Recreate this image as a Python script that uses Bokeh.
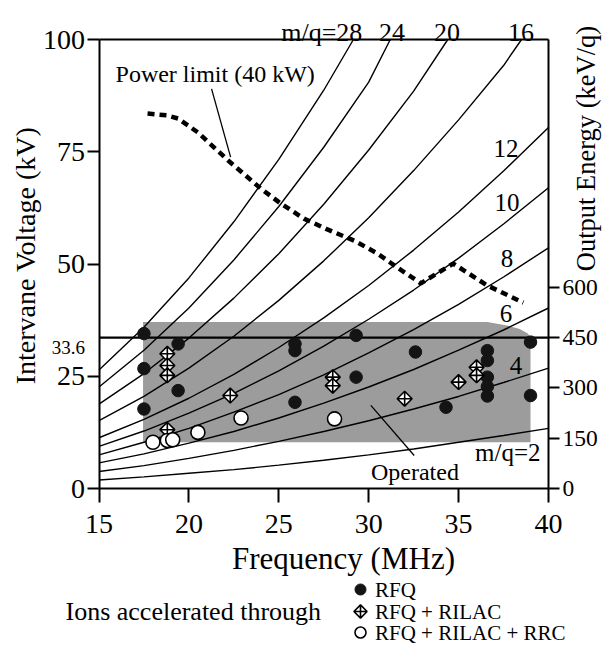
import math
from bokeh.plotting import figure
from bokeh.models import Range1d, LinearAxis, FixedTicker, Label
from bokeh.embed import file_html
from bokeh.resources import INLINE

# ---------------- data ----------------
freq_grid = [15, 17.5, 20, 22.5, 25, 27.5, 30, 32.5, 35, 37.5, 40]
mq_2 = [1.9, 2.6, 3.4, 4.2, 5.2, 6.3, 7.5, 8.8, 10.3, 11.8, 13.4]
mq_4 = [3.8, 5.1, 6.7, 8.5, 10.5, 12.7, 15.1, 17.7, 20.5, 23.6, 26.8]
mq_6 = [5.7, 7.7, 10.1, 12.7, 15.7, 19.0, 22.6, 26.5, 30.8, 35.3, 40.2]
mq_8 = [7.5, 10.3, 13.4, 17.0, 20.9, 25.3, 30.2, 35.4, 41.0, 47.1, 53.6]
mq_10 = [9.4, 12.8, 16.8, 21.2, 26.2, 31.7, 37.7, 44.2, 51.3, 58.9, 67.0]
mq_12 = [11.3, 15.4, 20.1, 25.4, 31.4, 38.0, 45.2, 53.1, 61.6, 70.7, 80.4]
mq_16 = [15.1, 20.5, 26.8, 33.9, 41.9, 50.7, 60.3, 70.8, 82.1, 94.2, 100.0]
mq_20 = [18.8, 25.6, 33.5, 42.4, 52.3, 63.3, 75.4, 88.5, 100.0]
mq_24 = [22.6, 30.8, 40.2, 50.9, 62.8, 76.0, 90.5, 100.0]
mq_28 = [26.4, 35.9, 46.9, 59.4, 73.3, 88.7, 100.0]
# frequency where the high m/q curves leave the top of the chart (100 kV)
top_f_16, top_f_20, top_f_24, top_f_28 = 38.5, 34.4, 31.2, 29.15

power_f = [17.7, 18.8, 19.4, 20.5, 22.2, 24.0, 25.1, 26.4, 27.7, 29.2, 30.5, 31.6, 32.9, 34.7, 36.6, 38.6]
power_v = [83.5, 83.1, 82.4, 79.3, 73.0, 66.8, 63.5, 60.1, 57.7, 55.2, 52.3, 49.2, 45.7, 50.1, 45.2, 41.4]

operated_f = [17.45, 39.0, 39.0, 38.85, 38.4, 37.7, 36.6, 17.45]
operated_v = [10.3, 10.3, 33.6, 34.5, 35.5, 36.3, 37.1, 37.1]

rfq_f = [17.5, 19.4, 17.5, 19.4, 17.5, 25.9, 25.9, 25.9, 29.3, 29.3, 32.6, 34.3,
         36.6, 36.6, 36.6, 36.6, 36.6, 39.0, 39.0]
rfq_v = [34.5, 32.2, 26.7, 21.8, 17.7, 32.2, 30.7, 19.2, 34.1, 24.8, 30.4, 18.1,
         30.7, 28.5, 24.8, 22.7, 20.6, 32.6, 20.7]

rilac_f = [18.8, 18.8, 18.8, 18.8, 22.3, 28.0, 28.0, 32.0, 35.0, 36.0, 36.0]
rilac_v = [30.0, 27.4, 25.2, 13.1, 20.7, 24.8, 22.9, 20.0, 23.7, 27.0, 25.2]

rrc_f = [18.0, 18.8, 19.1, 20.5, 22.9, 28.1]
rrc_v = [10.3, 10.7, 10.85, 12.5, 15.7, 15.5]

legend_labels = ["RFQ", "RFQ + RILAC", "RFQ + RILAC + RRC"]
legend_title = "Ions accelerated through"

x_ticks = [15, 20, 25, 30, 35, 40]
y_ticks = [0, 25, 50, 75, 100]
energy_ticks = [0, 150, 300, 450, 600]
v_limit = 33.6
e_limit = 450

FONT = "Liberation Serif"
W, H = 604, 645
# chart frame inside the canvas (pixels)
FL, FR, FT, FB = 98.5, 548.0, 39.0, 488.0
x0, x1, y0, y1 = 15.0, 40.0, 0.0, 100.0
sx = (FR - FL) / (x1 - x0)
sy = (FB - FT) / (y1 - y0)
xr = Range1d(x0 - FL / sx, x0 + (W - FL) / sx)
yr = Range1d(y0 - (H - FB) / sy, y0 + FB / sy)
e_per_v = e_limit / v_limit

def px(x):   # canvas x pixel -> data
    return x0 + (x - FL) / sx

def py(y):   # canvas y pixel -> data
    return y0 + (FB - y) / sy

p = figure(width=W, height=H, x_range=xr, y_range=yr, x_axis_type=None, y_axis_type=None,
           output_backend="svg", toolbar_location=None,
           min_border=0, min_border_left=0, min_border_right=0, min_border_top=0, min_border_bottom=0)
p.outline_line_color = None
p.background_fill_color = "white"
p.border_fill_color = "white"
p.extra_y_ranges = {"energy": Range1d(yr.start * e_per_v, yr.end * e_per_v)}

xa = LinearAxis(fixed_location=y0, bounds=(x0, x1), ticker=FixedTicker(ticks=x_ticks))
ya = LinearAxis(fixed_location=x0, bounds=(y0, y1), ticker=FixedTicker(ticks=y_ticks))
ra = LinearAxis(fixed_location=x1, bounds=(0, y1 * e_per_v), y_range_name="energy",
                ticker=FixedTicker(ticks=energy_ticks))
ta = LinearAxis(fixed_location=y1, bounds=(x0, x1), ticker=FixedTicker(ticks=[]))
for ax, fs, tl, so in [(xa, "28px", 14, 12), (ya, "28px", 12, 2), (ra, "23.5px", 11, 3), (ta, "1px", 0, 0)]:
    ax.axis_line_width = 2
    ax.axis_line_color = "black"
    ax.major_tick_line_width = 2
    ax.major_tick_out = tl
    ax.major_tick_in = 0
    ax.minor_tick_out = 0
    ax.minor_tick_in = 0
    ax.major_label_text_font = FONT
    ax.major_label_text_font_size = fs
    ax.major_label_text_color = "black"
    ax.major_label_standoff = so
p.add_layout(xa, "below")
p.add_layout(ya, "left")
p.add_layout(ra, "right")
p.add_layout(ta, "above")

# operated region
p.patch(operated_f, operated_v, fill_color="#9c9c9c", line_color=None)

# m/q curves
for c in [mq_2, mq_4, mq_6, mq_8, mq_10, mq_12]:
    p.line(freq_grid, c, line_color="black", line_width=1.4)
for c, ft in [(mq_16, top_f_16), (mq_20, top_f_20), (mq_24, top_f_24), (mq_28, top_f_28)]:
    p.line(freq_grid[:len(c) - 1] + [ft], c, line_color="black", line_width=1.4)

# 33.6 kV limit line
p.line([x0, x1], [v_limit, v_limit], line_color="black", line_width=2.2)

# power limit
p.line(power_f, power_v, line_color="black", line_width=4.5, line_dash="7 5")

# pointers
p.line([21.26, 22.32], [89.0, 73.8], line_color="black", line_width=1.3)
p.line([30.12, 32.53], [18.5, 7.35], line_color="black", line_width=1.3)

RFQ_STYLE = dict(marker="circle", fill_color="#141414", line_color="#141414")
RIL_STYLE = dict(marker="square_x", angle=math.pi / 4, fill_color="white", line_color="black", line_width=1.6)
RRC_STYLE = dict(marker="circle", fill_color="white", line_color="black", line_width=1.6)

p.scatter(rfq_f, rfq_v, size=12.5, **RFQ_STYLE)
p.scatter(rilac_f, rilac_v, size=10.5, **RIL_STYLE)
p.scatter(rrc_f, rrc_v, size=14, **RRC_STYLE)

def lab(x, y, t, size, align="center", base="middle", angle=0.0):
    p.add_layout(Label(x=x, y=y, text=t, text_font=FONT, text_font_size=size,
                       text_align=align, text_baseline=base, angle=angle, text_color="black"))

# curve labels
lab(27.39, 101.56, "m/q=28", "26px", base="alphabetic")
lab(31.29, 101.56, "24", "26px", base="alphabetic")
lab(34.35, 101.56, "20", "26px", base="alphabetic")
lab(38.47, 101.56, "16", "26px", base="alphabetic")
lab(37.63, 75.7, "12", "25px")
lab(37.69, 63.7, "10", "25px")
lab(37.69, 51.2, "8", "25px")
lab(37.63, 39.0, "6", "25px")
lab(38.19, 27.4, "4", "25px")
lab(37.74, 8.0, "m/q=2", "25px")

lab(15.92, 92.4, "Power limit (40 kW)", "24px", align="left")
lab(32.57, 3.6, "Operated", "24px")
lab(14.22, 31.4, "33.6", "19px", align="right")

# axis titles
lab(px(343), py(558), "Frequency (MHz)", "31px")
lab(px(25), py(255), "Intervane Voltage (kV)", "28px", angle=math.pi / 2)
lab(px(585), py(148), "Output Energy (keV/q)", "26.5px", angle=math.pi / 2)

# legend (keys and texts)
row_y = [589, 611, 632]
key_x = 360
p.scatter([px(key_x)], [py(row_y[0])], size=11, **RFQ_STYLE)
p.scatter([px(key_x)], [py(row_y[1])], size=9.3, **RIL_STYLE)
p.scatter([px(key_x)], [py(row_y[2])], size=11, **RRC_STYLE)
for ry, t in zip(row_y, legend_labels):
    lab(px(374.5), py(ry), t, "21px", align="left")
lab(px(65), py(row_y[1]), legend_title, "26px", align="left")

open("out.html", "w").write(file_html(p, INLINE))
